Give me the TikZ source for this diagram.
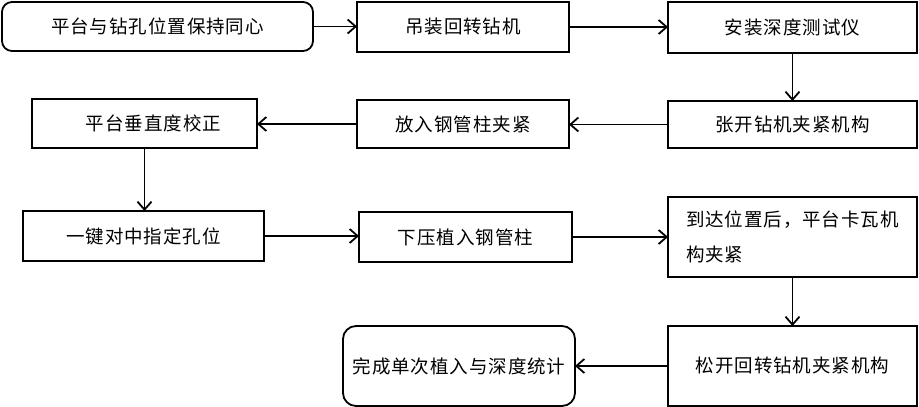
\documentclass[tikz,border=0pt]{standalone}
\usepackage{fontspec}
\setmainfont{Noto Sans CJK SC}[LetterSpace=5]
\usetikzlibrary{arrows.meta}
\tikzset{
  box/.style={draw=black, line width=1.8pt, fill=white, inner sep=0pt, outer sep=0pt,
    font=\fontsize{18.5}{35}\selectfont, align=center},
  rbox/.style={box, rounded corners=10pt},
  flow/.style={line width=1.8pt, -{Straight Barb[length=8pt,width=14pt,line width=1.8pt]}}
}
\begin{document}
\begin{tikzpicture}[x=1pt,y=-1pt]
\useasboundingbox (0,0) rectangle (919,407);
\node[rbox, minimum width=311pt, minimum height=49pt] (b1) at (157.5,26.5) {平台与钻孔位置保持同心};
\node[box, minimum width=212pt, minimum height=50pt] (b2) at (463,27) {吊装回转钻机};
\node[box, minimum width=249pt, minimum height=51pt] (b3) at (792.5,27.5) {安装深度测试仪};
\node[box, minimum width=249pt, minimum height=47pt] (b4) at (792.5,124.5) {张开钻机夹紧机构};
\node[box, minimum width=212pt, minimum height=48pt] (b5) at (463,124) {放入钢管柱夹紧};
\node[box, minimum width=225pt, minimum height=49pt] (b6) at (144.5,123.5) {\hspace{18pt}平台垂直度校正};
\node[box, minimum width=241pt, minimum height=50pt] (b7) at (143.5,236) {一键对中指定孔位};
\node[box, minimum width=213pt, minimum height=50pt] (b8) at (465.5,237) {下压植入钢管柱};
\node[box, minimum width=249pt, minimum height=80pt, align=left, text width=213pt] (b9) at (792.5,237) {到达位置后，平台卡瓦机\\构夹紧};
\node[box, minimum width=249pt, minimum height=80pt] (b10) at (792.5,366) {松开回转钻机夹紧机构};
\node[rbox, rounded corners=13pt, minimum width=232pt, minimum height=80pt] (b11) at (459,366) {完成单次植入与深度统计};
\draw[flow] (b1.east) -- (b1.east -| b2.west);
\draw[flow] (b2.east) -- (b2.east -| b3.west);
\draw[flow] (b3.south) -- (b3.south |- b4.north);
\draw[flow] (b4.west) -- (b4.west -| b5.east);
\draw[flow] (b5.west) -- (b5.west -| b6.east);
\draw[flow] (b6.south) -- (b6.south |- b7.north);
\draw[flow] (b7.east) -- (b7.east -| b8.west);
\draw[flow] (b8.east) -- (b8.east -| b9.west);
\draw[flow] (b9.south) -- (b9.south |- b10.north);
\draw[flow] (b10.west) -- (b10.west -| b11.east);
\end{tikzpicture}
\end{document}
